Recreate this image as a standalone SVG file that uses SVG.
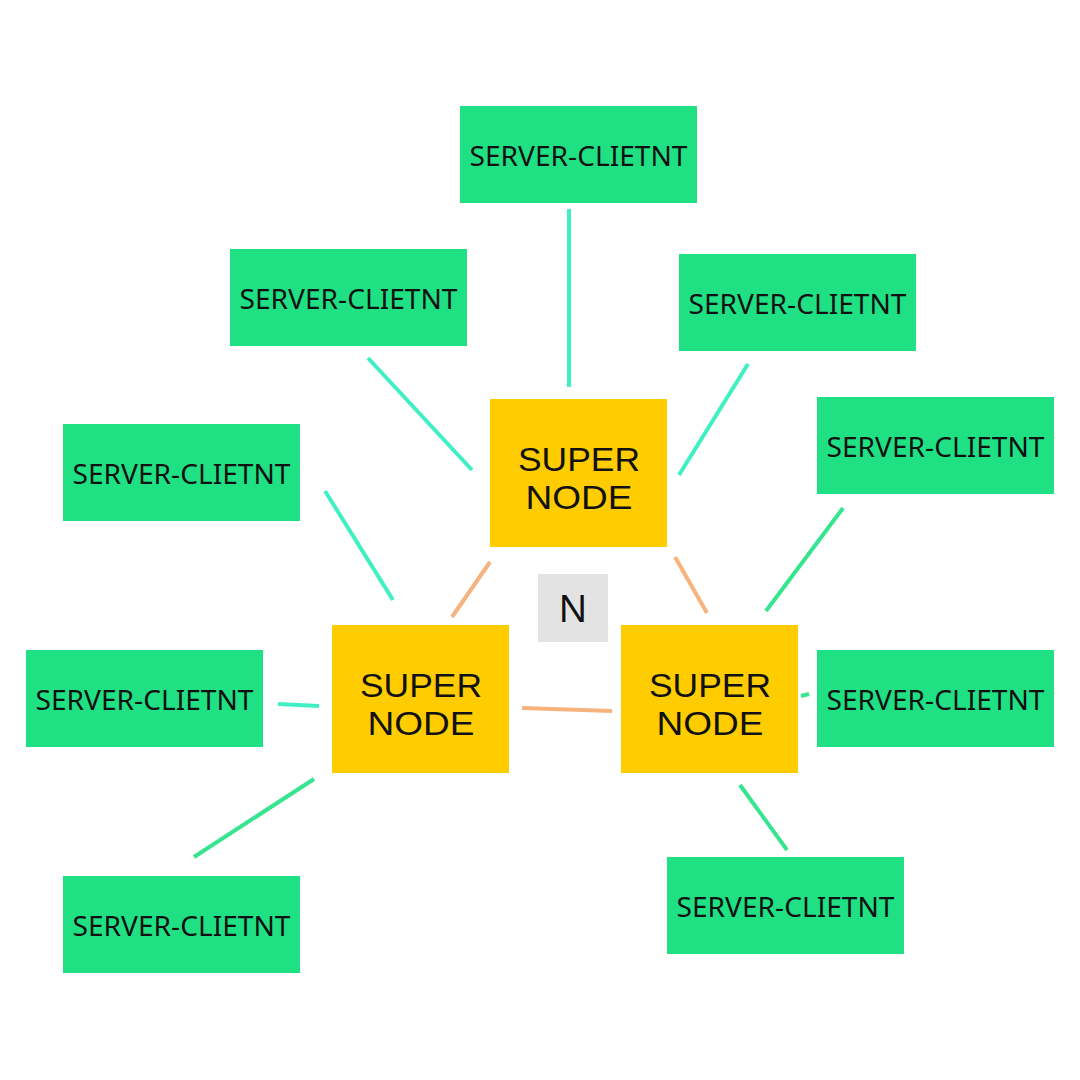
<svg xmlns="http://www.w3.org/2000/svg" width="1080" height="1080" viewBox="0 0 1080 1080">
<style>
.sc rect{fill:#1fe184}
.sc text{font-family:"Noto Sans","Liberation Sans",sans-serif;font-size:27px;fill:#111;text-anchor:middle}
.sn rect{fill:#ffcc00}
.sn text{font-family:"Liberation Sans",Arial,sans-serif;font-size:34px;fill:#111;text-anchor:middle}
.n rect{fill:#e3e3e3}
.n text{font-family:"Noto Sans","Liberation Sans",sans-serif;font-size:38px;fill:#111;text-anchor:middle}
.c line{stroke-width:4;stroke-linecap:butt}
.g{stroke:#3ef0c4}
.g2{stroke:#37e58f}
.o{stroke:#f6b37e}
</style>
<rect width="1080" height="1080" fill="#fff"/>
<g class="c" id="connectors">
<line class="g" x1="569" y1="209" x2="569" y2="387"/>
<line class="g" x1="368" y1="358" x2="472" y2="470"/>
<line class="g" x1="748" y1="364" x2="679" y2="475"/>
<line class="g" x1="325" y1="491" x2="393" y2="600"/>
<line class="g2" x1="843" y1="508" x2="766" y2="611"/>
<line class="g" x1="278" y1="704" x2="319" y2="706"/>
<line class="g2" x1="314" y1="779" x2="194" y2="857"/>
<line class="g2" x1="740" y1="785" x2="787" y2="850"/>
<line class="g2" x1="801" y1="696" x2="809" y2="694"/>
<line class="o" x1="490" y1="562" x2="452" y2="617"/>
<line class="o" stroke="#f9a882" x1="675" y1="557" x2="707" y2="613"/>
<line class="o" stroke="#f2bf6e" x1="522" y1="708" x2="612" y2="711"/>
</g>
<g class="sc" id="sc1"><rect x="460" y="106" width="237" height="97"/><text x="578.5" y="166" textLength="218" lengthAdjust="spacingAndGlyphs">SERVER-CLIETNT</text></g>
<g class="sc" id="sc2"><rect x="230" y="249" width="237" height="97"/><text x="348.5" y="309" textLength="218" lengthAdjust="spacingAndGlyphs">SERVER-CLIETNT</text></g>
<g class="sc" id="sc3"><rect x="679" y="254" width="237" height="97"/><text x="797.5" y="314" textLength="218" lengthAdjust="spacingAndGlyphs">SERVER-CLIETNT</text></g>
<g class="sc" id="sc4"><rect x="63" y="424" width="237" height="97"/><text x="181.5" y="484" textLength="218" lengthAdjust="spacingAndGlyphs">SERVER-CLIETNT</text></g>
<g class="sc" id="sc5"><rect x="817" y="397" width="237" height="97"/><text x="935.5" y="457" textLength="218" lengthAdjust="spacingAndGlyphs">SERVER-CLIETNT</text></g>
<g class="sc" id="sc6"><rect x="26" y="650" width="237" height="97"/><text x="144.5" y="710" textLength="218" lengthAdjust="spacingAndGlyphs">SERVER-CLIETNT</text></g>
<g class="sc" id="sc7"><rect x="817" y="650" width="237" height="97"/><text x="935.5" y="710" textLength="218" lengthAdjust="spacingAndGlyphs">SERVER-CLIETNT</text></g>
<g class="sc" id="sc8"><rect x="63" y="876" width="237" height="97"/><text x="181.5" y="936" textLength="218" lengthAdjust="spacingAndGlyphs">SERVER-CLIETNT</text></g>
<g class="sc" id="sc9"><rect x="667" y="857" width="237" height="97"/><text x="785.5" y="917" textLength="218" lengthAdjust="spacingAndGlyphs">SERVER-CLIETNT</text></g>
<g class="sn" id="sn-top"><rect x="490" y="399" width="177" height="148"/><text x="579" y="471" textLength="122" lengthAdjust="spacingAndGlyphs">SUPER</text><text x="579" y="509" textLength="107" lengthAdjust="spacingAndGlyphs">NODE</text></g>
<g class="sn" id="sn-left"><rect x="332" y="625" width="177" height="148"/><text x="421" y="697" textLength="122" lengthAdjust="spacingAndGlyphs">SUPER</text><text x="421" y="735" textLength="107" lengthAdjust="spacingAndGlyphs">NODE</text></g>
<g class="sn" id="sn-right"><rect x="621" y="625" width="177" height="148"/><text x="710" y="697" textLength="122" lengthAdjust="spacingAndGlyphs">SUPER</text><text x="710" y="735" textLength="107" lengthAdjust="spacingAndGlyphs">NODE</text></g>
<g class="n" id="n"><rect x="538" y="574" width="70" height="68"/><text x="573" y="622">N</text></g>
</svg>
